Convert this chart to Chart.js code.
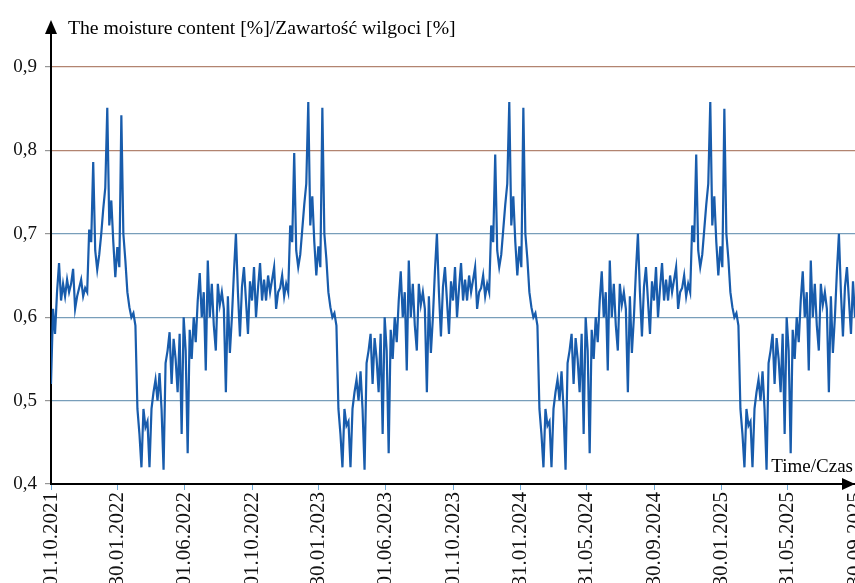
<!DOCTYPE html>
<html>
<head>
<meta charset="utf-8">
<script src="https://cdn.jsdelivr.net/npm/chart.js@4.4.1/dist/chart.umd.min.js"></script>
<style>
  body { margin: 0; background: #fff; }
  canvas { display: block; }
</style>
</head>
<body>
<canvas id="chart" width="855" height="583"></canvas>
<script>
// Подписи осей
let yTitle = 'The moisture content [%]/Zawartość wilgoci [%]';
let xTitle = 'Time/Czas';

// Даты на оси X (дни от 01.10.2021) и их подписи
let tickDays = [0, 121, 243, 365, 486, 608, 730, 852, 973, 1095, 1217, 1338, 1460];
let tickLabels = ['01.10.2021', '30.01.2022', '01.06.2022', '01.10.2022', '30.01.2023', '01.06.2023',
    '01.10.2023', '31.01.2024', '31.05.2024', '30.09.2024', '30.01.2025', '31.05.2025', '30.09.2025'];

// Шаг измерений в днях
let stepDays = 3.65;

// Влажность по годам (01.10 - 30.09)
let moisture2122 = [0.52, 0.61, 0.58, 0.63, 0.665, 0.62, 0.64, 0.625, 0.645, 0.63,
    0.64, 0.658, 0.61, 0.625, 0.635, 0.645, 0.625, 0.635, 0.63, 0.705,
    0.69, 0.786, 0.68, 0.657, 0.675, 0.70, 0.73, 0.755, 0.851, 0.71,
    0.74, 0.69, 0.648, 0.684, 0.66, 0.842, 0.70, 0.668, 0.63, 0.612,
    0.60, 0.605, 0.59, 0.49, 0.46, 0.42, 0.49, 0.468, 0.475, 0.42,
    0.49, 0.51, 0.525, 0.50, 0.533, 0.49, 0.417, 0.545, 0.56, 0.582,
    0.52, 0.574, 0.55, 0.51, 0.58, 0.46, 0.60, 0.56, 0.437, 0.585,
    0.55, 0.60, 0.57, 0.62, 0.653, 0.60, 0.63, 0.536, 0.668, 0.60,
    0.64, 0.59, 0.56, 0.64, 0.615, 0.63, 0.61, 0.51, 0.625, 0.557,
    0.60, 0.653, 0.70, 0.63, 0.577, 0.636, 0.66, 0.62, 0.58, 0.643];

let moisture2223 = [0.62, 0.66, 0.60, 0.635, 0.665, 0.62, 0.645, 0.62, 0.65, 0.63,
    0.645, 0.66, 0.61, 0.63, 0.635, 0.65, 0.625, 0.64, 0.63, 0.71,
    0.69, 0.797, 0.68, 0.66, 0.675, 0.705, 0.735, 0.76, 0.858, 0.71,
    0.745, 0.69, 0.65, 0.685, 0.66, 0.851, 0.70, 0.67, 0.63, 0.612,
    0.60, 0.605, 0.59, 0.49, 0.46, 0.42, 0.49, 0.47, 0.475, 0.42,
    0.49, 0.51, 0.525, 0.50, 0.535, 0.49, 0.417, 0.545, 0.56, 0.58,
    0.52, 0.575, 0.55, 0.51, 0.58, 0.46, 0.60, 0.56, 0.437, 0.585,
    0.55, 0.60, 0.57, 0.62, 0.655, 0.60, 0.63, 0.536, 0.668, 0.60,
    0.64, 0.59, 0.56, 0.64, 0.615, 0.63, 0.61, 0.51, 0.625, 0.557,
    0.60, 0.655, 0.70, 0.63, 0.577, 0.636, 0.66, 0.62, 0.58, 0.643];

let moisture2324 = [0.62, 0.66, 0.60, 0.635, 0.665, 0.62, 0.645, 0.62, 0.65, 0.63,
    0.645, 0.66, 0.61, 0.63, 0.635, 0.65, 0.625, 0.64, 0.63, 0.71,
    0.69, 0.795, 0.68, 0.66, 0.675, 0.705, 0.735, 0.76, 0.858, 0.71,
    0.745, 0.69, 0.65, 0.685, 0.66, 0.851, 0.70, 0.67, 0.63, 0.612,
    0.60, 0.605, 0.59, 0.49, 0.46, 0.42, 0.49, 0.47, 0.475, 0.42,
    0.49, 0.51, 0.525, 0.50, 0.535, 0.49, 0.417, 0.545, 0.56, 0.58,
    0.52, 0.575, 0.55, 0.51, 0.58, 0.46, 0.60, 0.56, 0.437, 0.585,
    0.55, 0.60, 0.57, 0.62, 0.655, 0.60, 0.63, 0.536, 0.668, 0.60,
    0.64, 0.59, 0.56, 0.64, 0.615, 0.63, 0.61, 0.51, 0.625, 0.557,
    0.60, 0.655, 0.70, 0.63, 0.577, 0.636, 0.66, 0.62, 0.58, 0.643];

let moisture2425 = [0.62, 0.66, 0.60, 0.635, 0.665, 0.62, 0.645, 0.62, 0.65, 0.63,
    0.645, 0.66, 0.61, 0.63, 0.635, 0.65, 0.625, 0.64, 0.63, 0.71,
    0.69, 0.795, 0.68, 0.66, 0.675, 0.705, 0.735, 0.76, 0.858, 0.71,
    0.745, 0.69, 0.65, 0.685, 0.66, 0.85, 0.70, 0.67, 0.63, 0.612,
    0.60, 0.605, 0.59, 0.49, 0.46, 0.42, 0.49, 0.47, 0.475, 0.42,
    0.49, 0.51, 0.525, 0.50, 0.535, 0.49, 0.417, 0.545, 0.56, 0.58,
    0.52, 0.575, 0.55, 0.51, 0.58, 0.46, 0.60, 0.56, 0.437, 0.585,
    0.55, 0.60, 0.57, 0.62, 0.655, 0.60, 0.63, 0.536, 0.668, 0.60,
    0.64, 0.59, 0.56, 0.64, 0.615, 0.63, 0.61, 0.51, 0.625, 0.557,
    0.60, 0.655, 0.70, 0.63, 0.577, 0.636, 0.66, 0.62, 0.58, 0.643, 0.60];

let years = [moisture2122, moisture2223, moisture2324, moisture2425];

// Сборка точек
let points = [];
years.forEach((arr, y) => {
    arr.forEach((v, i) => {
        points.push({ x: y * 365 + i * stepDays, y: v });
    });
});

const serif = 'Liberation Serif';

// Стрелки осей и подписи
const axesDecor = {
    id: 'axesDecor',
    afterDraw(chart) {
        let ctx = chart.ctx;
        let area = chart.chartArea;
        ctx.save();
        ctx.strokeStyle = '#000';
        ctx.fillStyle = '#000';
        ctx.lineWidth = 2;
        // ось Y вверх
        ctx.beginPath();
        ctx.moveTo(area.left, area.top);
        ctx.lineTo(area.left, 30);
        ctx.stroke();
        ctx.beginPath();
        ctx.moveTo(area.left, 20);
        ctx.lineTo(area.left - 6, 34);
        ctx.lineTo(area.left + 6, 34);
        ctx.closePath();
        ctx.fill();
        // ось X вправо
        ctx.beginPath();
        ctx.moveTo(855, area.bottom);
        ctx.lineTo(842, area.bottom - 6);
        ctx.lineTo(842, area.bottom + 6);
        ctx.closePath();
        ctx.fill();
        // подписи
        ctx.font = '19.7px "' + serif + '"';
        ctx.textBaseline = 'alphabetic';
        ctx.textAlign = 'left';
        ctx.fillText(yTitle, 68, 34);
        ctx.font = '19px "' + serif + '"';
        ctx.textAlign = 'right';
        ctx.fillText(xTitle, 853, 472);
        ctx.restore();
    }
};

let context = document.getElementById('chart').getContext('2d');

let config = {
    type: 'line',
    data: {
        datasets: [{
            label: 'moisture',
            data: points,
            borderColor: 'rgb(24, 92, 172)',
            borderWidth: 2.2,
            pointRadius: 0,
            tension: 0,
            fill: false
        }]
    },
    options: {
        responsive: false,
        animation: false,
        layout: {
            padding: { top: 67, right: 0, left: 0, bottom: 0 }
        },
        plugins: {
            legend: { display: false },
            tooltip: { enabled: false }
        },
        scales: {
            x: {
                type: 'linear',
                min: 0,
                max: 1460,
                afterBuildTicks: (scale) => {
                    scale.ticks = tickDays.map(d => ({ value: d }));
                },
                afterFit: (scale) => {
                    scale.height = 99;
                    scale.paddingLeft = 0;
                    scale.paddingRight = 0;
                },
                ticks: {
                    autoSkip: false,
                    minRotation: 90,
                    maxRotation: 90,
                    padding: 2,
                    color: '#111',
                    font: { family: serif, size: 21 },
                    callback: (value, index) => tickLabels[index]
                },
                grid: {
                    drawOnChartArea: false,
                    drawTicks: true,
                    tickLength: 6,
                    color: 'rgb(110, 170, 215)'
                },
                border: {
                    color: '#000',
                    width: 2
                }
            },
            y: {
                min: 0.4,
                max: 0.9,
                afterFit: (scale) => {
                    scale.width = 51;
                },
                ticks: {
                    stepSize: 0.1,
                    padding: 8,
                    color: '#111',
                    font: { family: serif, size: 19 },
                    callback: (value) => value.toFixed(1).replace('.', ',')
                },
                grid: {
                    tickLength: 6,
                    tickColor: 'rgb(150, 150, 150)',
                    lineWidth: 1.2,
                    color: (c) => (c.tick && c.tick.value > 0.75) ? 'rgb(178, 132, 112)' : 'rgb(120, 158, 186)'
                },
                border: {
                    color: '#000',
                    width: 2
                }
            }
        }
    },
    plugins: [axesDecor]
};

let chart = new Chart(context, config);
</script>
</body>
</html>
